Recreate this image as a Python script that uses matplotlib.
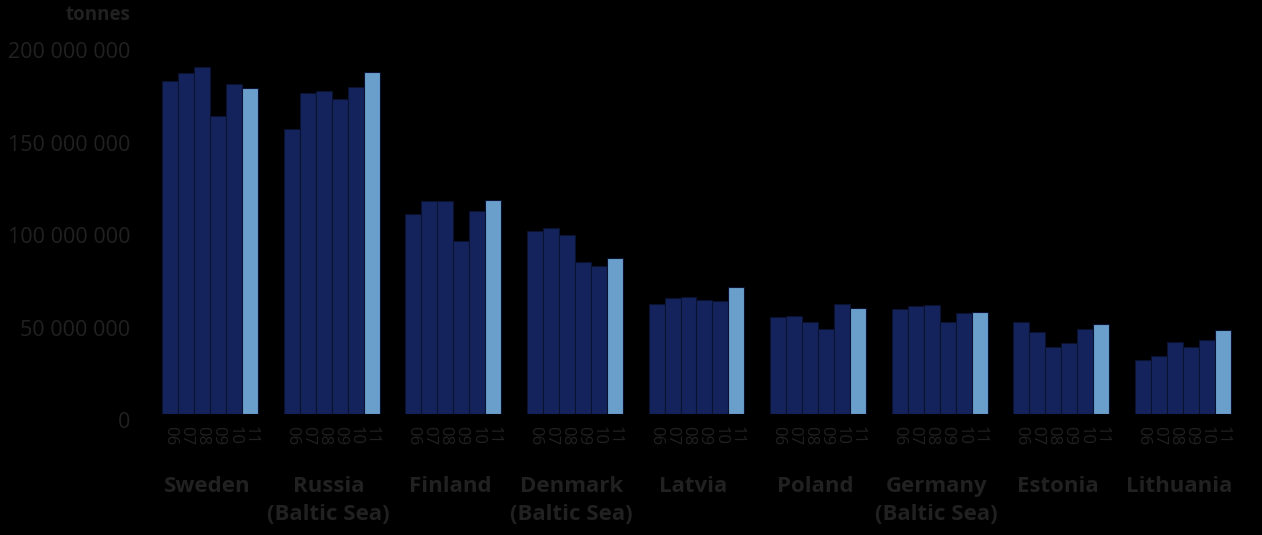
import numpy as np
import matplotlib.pyplot as plt
import matplotlib.transforms as mtransforms
from matplotlib.ticker import FuncFormatter

# Values (million tonnes), years 2006-2011
countries = ["Sweden", "Russia\n(Baltic Sea)", "Finland", "Denmark\n(Baltic Sea)", "Latvia",
             "Poland", "Germany\n(Baltic Sea)", "Estonia", "Lithuania"]
years = ["06", "07", "08", "09", "10", "11"]
sweden = [180.0, 184.5, 187.3, 161.3, 178.6, 176.2]
russia = [154.0, 173.5, 174.8, 170.3, 176.5, 185.0]
finland = [108.3, 115.0, 115.0, 93.7, 110.0, 115.9]
denmark = [99.1, 100.8, 97.0, 82.3, 80.2, 84.5]
latvia = [59.6, 62.8, 63.4, 61.8, 61.2, 68.8]
poland = [52.5, 53.2, 49.5, 45.9, 59.4, 57.4]
germany = [56.7, 58.3, 58.7, 49.7, 54.5, 54.9]
estonia = [49.5, 44.4, 36.1, 38.5, 46.0, 48.6]
lithuania = [29.3, 31.6, 38.8, 36.1, 39.9, 45.3]
data = [sweden, russia, finland, denmark, latvia, poland, germany, estonia, lithuania]

navy = "#14235c"
light = "#6a9fcc"
text_col = "#212121"
bg = "black"

fig = plt.figure(figsize=(12.62, 5.35), dpi=100, facecolor=bg)
ax = fig.add_axes([140 / 1262, 121 / 535, (1245 - 140) / 1262, 370 / 535])
ax.set_facecolor(bg)

step = 7.6
xs, labels = [], []
for i, vals in enumerate(data):
    for j, v in enumerate(vals):
        x = i * step + j
        col = light if j == 5 else navy
        ax.bar(x, v * 1e6, width=1.0, color=col, edgecolor="#0a1230", linewidth=0.8)
        xs.append(x)
        labels.append(years[j])

ax.set_xlim(-1.9, 8 * step + 5 + 1.4)
ax.set_ylim(0, 200e6)
ax.set_yticks([0, 50e6, 100e6, 150e6, 200e6])
ax.yaxis.set_major_formatter(FuncFormatter(lambda v, p: "{:,}".format(int(v)).replace(",", " ")))
ax.set_xticks(xs)
ax.set_xticklabels(labels, rotation=270, fontsize=12, color=text_col, family="Open Sans")
ax.tick_params(axis="x", length=0, pad=9)
ax.tick_params(axis="y", length=0, pad=7, labelsize=15.5, labelcolor=text_col)
for lab in ax.get_yticklabels():
    lab.set_family("Open Sans")
    lab.set_transform(lab.get_transform() + mtransforms.ScaledTranslation(0, -6 / 100, fig.dpi_scale_trans))
for s in ax.spines.values():
    s.set_visible(False)

# country names under each group
trans = mtransforms.blended_transform_factory(ax.transData, fig.transFigure)
for i, name in enumerate(countries):
    ax.text(i * step + 2.3, 1 - 476 / 535, name, transform=trans, ha="center", va="top",
            fontsize=16, fontweight="bold", color=text_col, family="Open Sans", linespacing=1.45)

fig.text(130 / 1262, 1 - 15 / 535, "tonnes", ha="right", va="center", fontsize=13.5,
         fontweight="bold", color=text_col, family="Open Sans")

fig.savefig("out.png", dpi=100, facecolor=bg)
